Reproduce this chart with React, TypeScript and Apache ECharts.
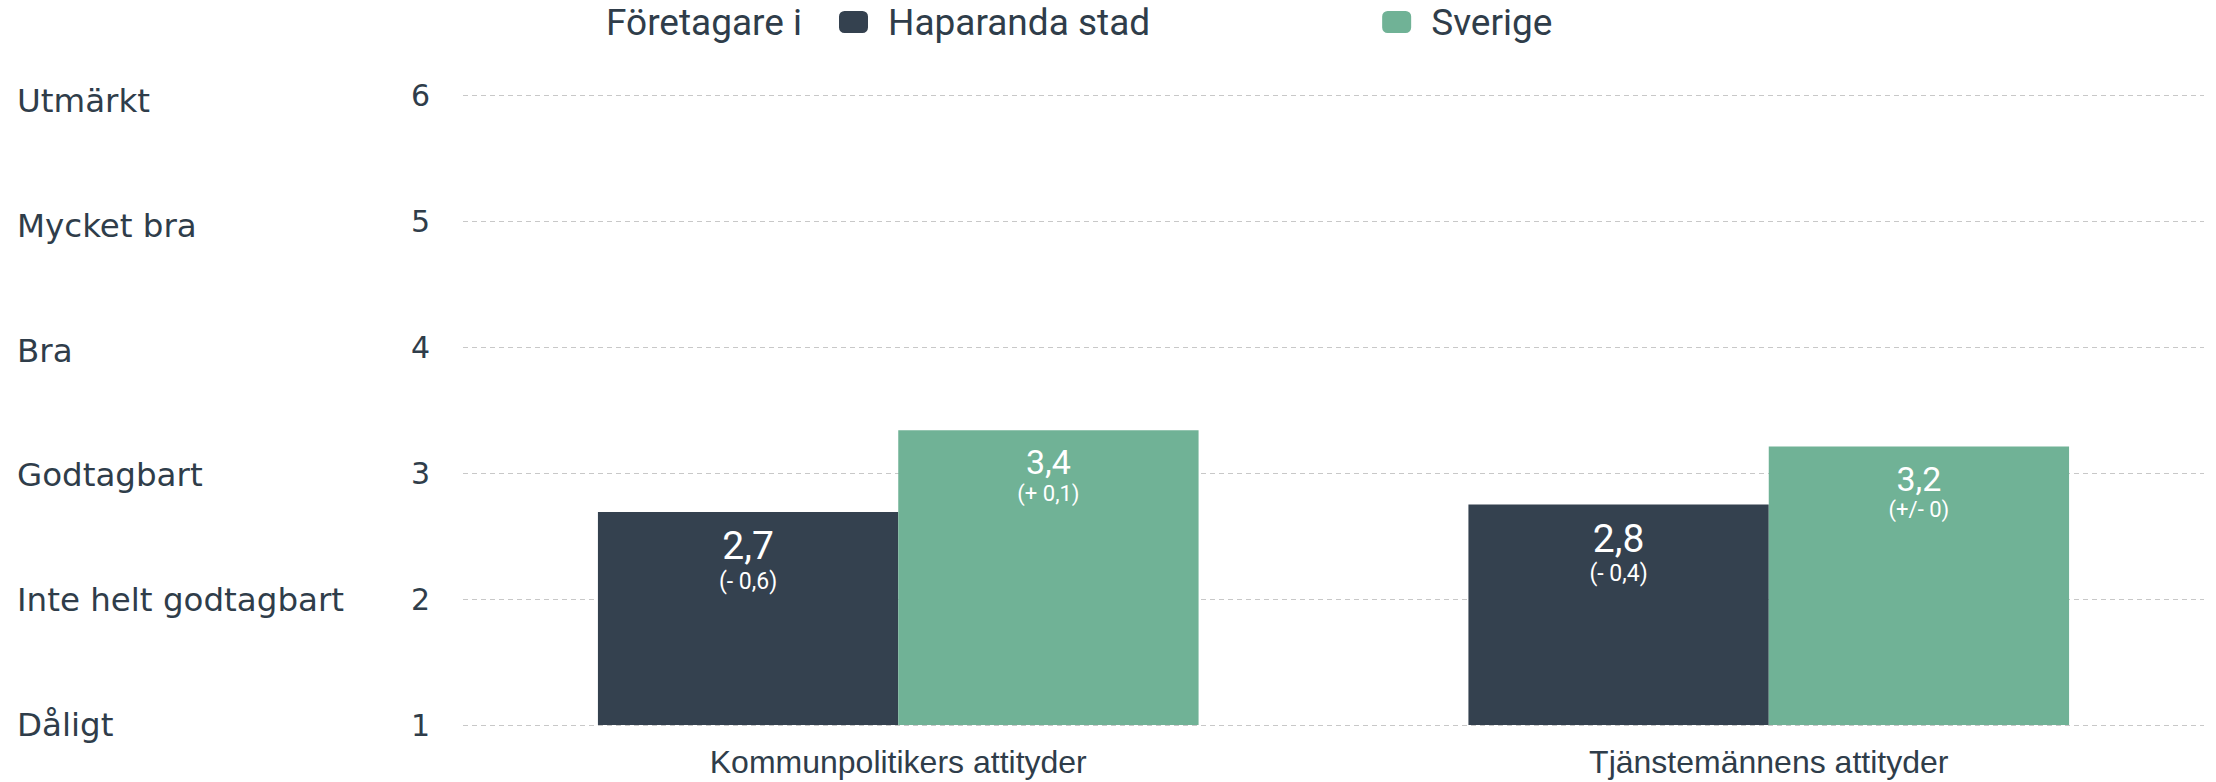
import React, { useEffect, useRef } from "react";
import * as echarts from "echarts";

const categories = ["Kommunpolitikers attityder", "Tjänstemännens attityder"];
const seriesNames = ["Haparanda stad", "Sverige"];
const haparandaValues = [2.69, 2.75];
const sverigeValues = [3.34, 3.21];
const haparandaLabels = ["2,7", "2,8"];
const haparandaChanges = ["(- 0,6)", "(- 0,4)"];
const sverigeLabels = ["3,4", "3,2"];
const sverigeChanges = ["(+ 0,1)", "(+/- 0)"];
const yTicks = [1, 2, 3, 4, 5, 6];
const yNames = ["Dåligt", "Inte helt godtagbart", "Godtagbart", "Bra", "Mycket bra", "Utmärkt"];
const legendPrefix = "Företagare i";

const DARK = "#34414f";
const GREEN = "#70b296";
const TEXT = "#2f3d4a";

export default function App() {
  const ref = useRef<HTMLDivElement>(null);
  useEffect(() => {
    if (!ref.current) return;
    const chart = echarts.init(ref.current, undefined, { renderer: "svg" });
    const nameRich: any = {};
    yTicks.forEach((_, i) => {
      nameRich["n" + i] = {
        fontFamily: "DejaVu Sans",
        fontSize: 32.5,
        color: TEXT,
        padding: [i * 2.4, 0, 0, 0],
      };
    });
    const option: any = {
      animation: false,
      backgroundColor: "#ffffff",
      grid: { left: 463, right: 12, top: 95, bottom: 57, containLabel: false },
      legend: {
        data: seriesNames,
        left: 839,
        top: 2,
        padding: 0,
        icon: "roundRect",
        itemWidth: 29,
        itemHeight: 22,
        itemGap: 232,
        textStyle: {
          fontFamily: "Roboto",
          fontSize: 37,
          color: TEXT,
          lineHeight: 40,
          padding: [0, 0, 0, 15],
        },
      },
      graphic: [
        {
          type: "text",
          left: 606,
          top: 2,
          style: {
            text: legendPrefix,
            fontFamily: "Roboto",
            fontSize: 37,
            fill: TEXT,
            lineHeight: 40,
          },
        },
      ],
      xAxis: {
        type: "category",
        data: categories,
        axisLine: { show: false },
        axisTick: { show: false },
        axisLabel: {
          margin: 21,
          fontFamily: "Liberation Sans",
          fontSize: 32,
          color: TEXT,
        },
      },
      yAxis: [
        {
          type: "value",
          min: yTicks[0],
          max: yTicks[yTicks.length - 1],
          interval: 1,
          axisLine: { show: false },
          axisTick: { show: false },
          splitLine: {
            show: true,
            lineStyle: { color: "#c8c8c8", type: [5, 4], width: 1 },
          },
          axisLabel: {
            margin: 33,
            fontFamily: "DejaVu Sans",
            fontSize: 30,
            color: TEXT,
          },
        },
        {
          type: "value",
          min: yTicks[0],
          max: yTicks[yTicks.length - 1],
          interval: 1,
          position: "left",
          axisLine: { show: false },
          axisTick: { show: false },
          splitLine: { show: false },
          axisLabel: {
            margin: 446,
            align: "left",
            color: TEXT,
            formatter: (v: number) => {
              const i = yTicks.indexOf(v);
              return i < 0 ? "" : `{n${i}|${yNames[i]}}`;
            },
            rich: nameRich,
          },
        },
      ],
      series: [
        {
          name: seriesNames[0],
          type: "bar",
          data: haparandaValues,
          barGap: "0%",
          barCategoryGap: "31%",
          clip: true,
          itemStyle: { color: DARK },
          label: {
            show: true,
            position: "insideTop",
            distance: 14,
            formatter: (p: any) =>
              `{a|${haparandaLabels[p.dataIndex]}}\n{b|${haparandaChanges[p.dataIndex]}}`,
            rich: {
              a: { fontFamily: "Roboto", fontSize: 39, lineHeight: 40, color: "#ffffff" },
              b: { fontFamily: "Roboto", fontSize: 23, lineHeight: 30, color: "#ffffff" },
            },
          },
        },
        {
          name: seriesNames[1],
          type: "bar",
          data: sverigeValues,
          barGap: "0%",
          barCategoryGap: "31%",
          clip: true,
          itemStyle: { color: GREEN },
          label: {
            show: true,
            position: "insideTop",
            distance: 15,
            formatter: (p: any) =>
              `{a|${sverigeLabels[p.dataIndex]}}\n{b|${sverigeChanges[p.dataIndex]}}`,
            rich: {
              a: { fontFamily: "Roboto", fontSize: 34, lineHeight: 34, color: "#ffffff" },
              b: { fontFamily: "Roboto", fontSize: 22, lineHeight: 28, color: "#ffffff" },
            },
          },
        },
      ],
    };
    chart.setOption(option);
    return () => chart.dispose();
  }, []);
  return (
    <div
      ref={ref}
      style={{ position: "fixed", left: 0, top: 0, width: 2216, height: 782 }}
    />
  );
}
